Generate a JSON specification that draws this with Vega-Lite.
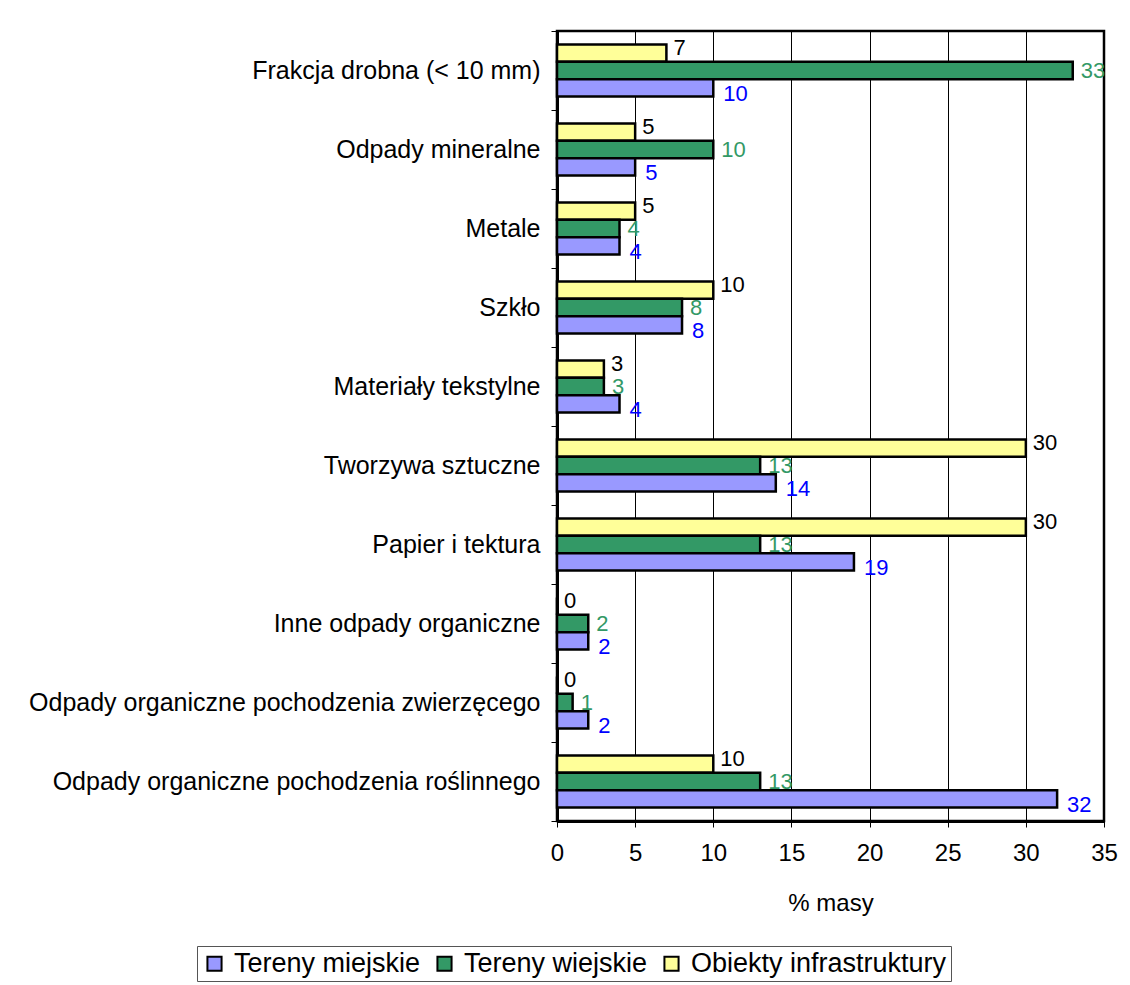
{
  "$schema": "https://vega.github.io/schema/vega-lite/v6.json",
  "width": 547,
  "height": 790,
  "autosize": {"type": "none"},
  "padding": {"left": 557, "top": 31, "right": 26, "bottom": 164},
  "background": "white",
  "config": {
    "font": "Liberation Sans",
    "view": {"stroke": "black", "strokeWidth": 2.5}
  },
  "data": {
    "values": [
      {"kategoria": "Frakcja drobna (< 10 mm)", "seria": "Obiekty infrastruktury", "wartosc": 7},
      {"kategoria": "Frakcja drobna (< 10 mm)", "seria": "Tereny wiejskie", "wartosc": 33},
      {"kategoria": "Frakcja drobna (< 10 mm)", "seria": "Tereny miejskie", "wartosc": 10},
      {"kategoria": "Odpady mineralne", "seria": "Obiekty infrastruktury", "wartosc": 5},
      {"kategoria": "Odpady mineralne", "seria": "Tereny wiejskie", "wartosc": 10},
      {"kategoria": "Odpady mineralne", "seria": "Tereny miejskie", "wartosc": 5},
      {"kategoria": "Metale", "seria": "Obiekty infrastruktury", "wartosc": 5},
      {"kategoria": "Metale", "seria": "Tereny wiejskie", "wartosc": 4},
      {"kategoria": "Metale", "seria": "Tereny miejskie", "wartosc": 4},
      {"kategoria": "Szkło", "seria": "Obiekty infrastruktury", "wartosc": 10},
      {"kategoria": "Szkło", "seria": "Tereny wiejskie", "wartosc": 8},
      {"kategoria": "Szkło", "seria": "Tereny miejskie", "wartosc": 8},
      {"kategoria": "Materiały tekstylne", "seria": "Obiekty infrastruktury", "wartosc": 3},
      {"kategoria": "Materiały tekstylne", "seria": "Tereny wiejskie", "wartosc": 3},
      {"kategoria": "Materiały tekstylne", "seria": "Tereny miejskie", "wartosc": 4},
      {"kategoria": "Tworzywa sztuczne", "seria": "Obiekty infrastruktury", "wartosc": 30},
      {"kategoria": "Tworzywa sztuczne", "seria": "Tereny wiejskie", "wartosc": 13},
      {"kategoria": "Tworzywa sztuczne", "seria": "Tereny miejskie", "wartosc": 14},
      {"kategoria": "Papier i tektura", "seria": "Obiekty infrastruktury", "wartosc": 30},
      {"kategoria": "Papier i tektura", "seria": "Tereny wiejskie", "wartosc": 13},
      {"kategoria": "Papier i tektura", "seria": "Tereny miejskie", "wartosc": 19},
      {"kategoria": "Inne odpady organiczne", "seria": "Obiekty infrastruktury", "wartosc": 0},
      {"kategoria": "Inne odpady organiczne", "seria": "Tereny wiejskie", "wartosc": 2},
      {"kategoria": "Inne odpady organiczne", "seria": "Tereny miejskie", "wartosc": 2},
      {"kategoria": "Odpady organiczne pochodzenia zwierzęcego", "seria": "Obiekty infrastruktury", "wartosc": 0},
      {"kategoria": "Odpady organiczne pochodzenia zwierzęcego", "seria": "Tereny wiejskie", "wartosc": 1},
      {"kategoria": "Odpady organiczne pochodzenia zwierzęcego", "seria": "Tereny miejskie", "wartosc": 2},
      {"kategoria": "Odpady organiczne pochodzenia roślinnego", "seria": "Obiekty infrastruktury", "wartosc": 10},
      {"kategoria": "Odpady organiczne pochodzenia roślinnego", "seria": "Tereny wiejskie", "wartosc": 13},
      {"kategoria": "Odpady organiczne pochodzenia roślinnego", "seria": "Tereny miejskie", "wartosc": 32}
    ]
  },
  "encoding": {
    "y": {
      "field": "kategoria",
      "type": "nominal",
      "sort": null,
      "scale": {"paddingInner": 0, "paddingOuter": 0},
      "axis": {
        "title": null,
        "labelFontSize": 25,
        "labelColor": "black",
        "labelPadding": 11,
        "labelLimit": 700,
        "tickSize": 6,
        "tickColor": "black",
        "tickWidth": 1,
        "tickBand": "extent",
        "domainColor": "black",
        "domainWidth": 3,
        "grid": false
      }
    },
    "yOffset": {
      "field": "seria",
      "type": "nominal",
      "scale": {
        "domain": ["Obiekty infrastruktury", "Tereny wiejskie", "Tereny miejskie"],
        "paddingInner": 0,
        "paddingOuter": 0.78
      }
    },
    "x": {
      "field": "wartosc",
      "type": "quantitative",
      "scale": {"domain": [0, 35], "nice": false},
      "axis": {
        "title": "% masy",
        "titleFontSize": 24,
        "titleFontWeight": "normal",
        "titleColor": "black",
        "titlePadding": 26,
        "values": [0, 5, 10, 15, 20, 25, 30, 35],
        "labelFontSize": 24,
        "labelColor": "black",
        "labelPadding": 14,
        "labelFlush": false,
        "tickSize": 6,
        "tickColor": "black",
        "domainColor": "black",
        "domainWidth": 3,
        "grid": true,
        "gridColor": "black",
        "gridWidth": 1,
        "gridOpacity": 1
      }
    }
  },
  "layer": [
    {
      "mark": {"type": "bar", "stroke": "black", "strokeWidth": 2.5, "cornerRadius": 0},
      "encoding": {
        "color": {
          "field": "seria",
          "type": "nominal",
          "scale": {
            "domain": ["Tereny miejskie", "Tereny wiejskie", "Obiekty infrastruktury"],
            "range": ["#9999FF", "#339966", "#FFFF99"]
          },
          "legend": {
            "title": null,
            "orient": "none",
            "legendX": -360,
            "legendY": 915,
            "direction": "horizontal",
            "columns": 3,
            "labelFontSize": 27,
            "labelColor": "black",
            "labelLimit": 400,
            "symbolType": "square",
            "symbolSize": 200,
            "symbolStrokeColor": "black",
            "symbolStrokeWidth": 2,
            "symbolOpacity": 1,
            "columnPadding": 10,
            "labelOffset": 6,
            "strokeColor": "#555555",
            "fillColor": "white",
            "padding": 4,
            "cornerRadius": 0
          }
        }
      }
    },
    {
      "transform": [{"filter": "datum.seria === 'Obiekty infrastruktury'"}],
      "mark": {"type": "text", "align": "left", "baseline": "middle", "dx": 7, "dy": -5, "fontSize": 22, "color": "#000000"},
      "encoding": {
        "text": {"field": "wartosc", "type": "quantitative"}
      }
    },
    {
      "transform": [{"filter": "datum.seria === 'Tereny wiejskie'"}],
      "mark": {"type": "text", "align": "left", "baseline": "middle", "dx": 8, "dy": 0, "fontSize": 22, "color": "#339966"},
      "encoding": {
        "text": {"field": "wartosc", "type": "quantitative"}
      }
    },
    {
      "transform": [{"filter": "datum.seria === 'Tereny miejskie'"}],
      "mark": {"type": "text", "align": "left", "baseline": "middle", "dx": 10, "dy": 6, "fontSize": 22, "color": "#0000FF"},
      "encoding": {
        "text": {"field": "wartosc", "type": "quantitative"}
      }
    }
  ]
}
